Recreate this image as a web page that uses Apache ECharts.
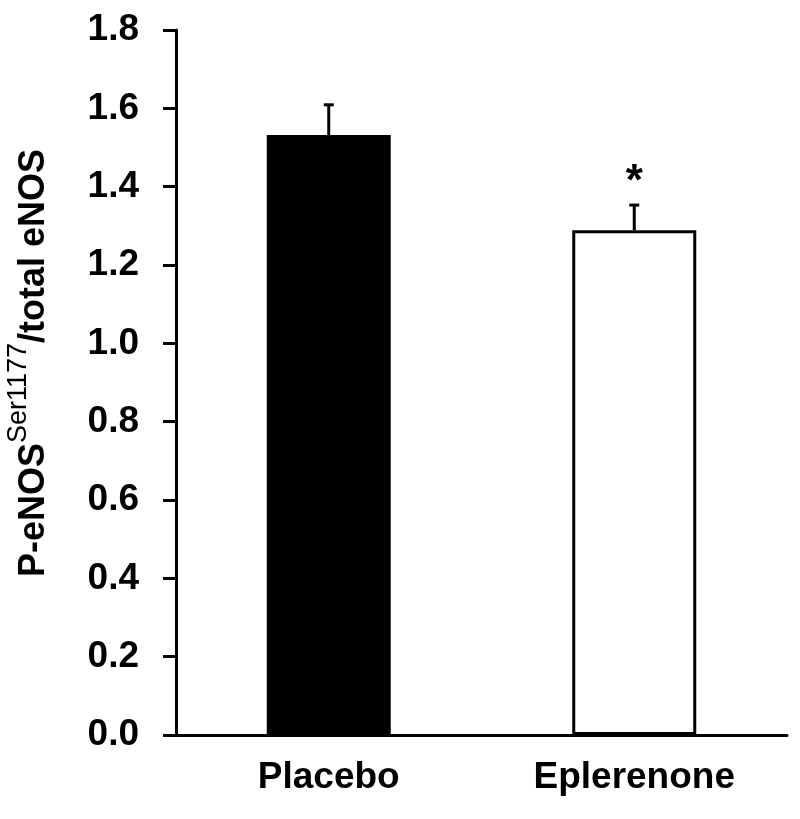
<!DOCTYPE html>
<html>
<head>
<meta charset="utf-8">
<script src="https://cdn.jsdelivr.net/npm/echarts@6/dist/echarts.min.js"></script>
<style>html,body{margin:0;padding:0;background:#fff;}#chart{width:800px;height:819px;}</style>
</head>
<body>
<div id="chart"></div>
<script>
const categories = ['Placebo', 'Eplerenone'];
const means = [1.532, 1.289];
const errors = [0.077, 0.064];
const significance = ['', '*'];
const yTicks = { min: 0, max: 1.8, interval: 0.2 };

const FONT = '"Liberation Sans", Arial, sans-serif';
const chart = echarts.init(document.getElementById('chart'), null, { renderer: 'canvas' });

const barData = means.map((v, i) => ({
  value: v,
  itemStyle: i === 0
    ? { color: '#000', borderColor: '#000', borderWidth: 0 }
    : { color: '#fff', borderColor: '#000', borderWidth: 3 }
}));
const errData = means.map((v, i) => [i, v, errors[i], significance[i]]);

chart.setOption({
  animation: false,
  backgroundColor: '#fff',
  grid: { left: 176, right: 13, top: 30, bottom: 84, containLabel: false },
  xAxis: {
    type: 'category',
    data: categories,
    axisLine: { lineStyle: { color: '#000', width: 3 } },
    axisTick: { show: false },
    axisLabel: { color: '#000', fontFamily: FONT, fontWeight: 'bold', fontSize: 37, margin: 24 },
    splitLine: { show: false }
  },
  yAxis: {
    type: 'value',
    min: yTicks.min, max: yTicks.max, interval: yTicks.interval,
    axisLine: { show: true, lineStyle: { color: '#000', width: 3 } },
    axisTick: { show: true, inside: false, length: 13, lineStyle: { color: '#000', width: 3 } },
    axisLabel: { color: '#000', fontFamily: FONT, fontWeight: 'bold', fontSize: 37, margin: 37,
      formatter: v => v.toFixed(1) },
    splitLine: { show: false }
  },
  graphic: [{
    type: 'text',
    x: 34, y: 363,
    rotation: Math.PI / 2,
    style: {
      text: '{a|P-eNOS}{b|Ser1177}{a|/total eNOS}',
      align: 'center',
      verticalAlign: 'middle',
      fill: '#000',
      rich: {
        a: { fontFamily: FONT, fontWeight: 'bold', fontSize: 36, lineHeight: 36, verticalAlign: 'bottom', fill: '#000' },
        b: { fontFamily: FONT, fontWeight: 'normal', fontSize: 27, lineHeight: 27, verticalAlign: 'bottom', padding: [0, 0, 20, 0], fill: '#000' }
      }
    }
  }],
  series: [
    {
      type: 'bar',
      data: barData,
      barWidth: 124,
      z: 2
    },
    {
      type: 'custom',
      z: 3,
      data: errData,
      renderItem: function (params, api) {
        const idx = api.value(0);
        const m = api.value(1);
        const e = api.value(2);
        const sig = significance[params.dataIndex];
        const p0 = api.coord([idx, m]);
        const p1 = api.coord([idx, m + e]);
        const capHalf = 5;
        const children = [
          { type: 'line', shape: { x1: p0[0], y1: p0[1], x2: p1[0], y2: p1[1] },
            style: { stroke: '#000', lineWidth: 3 } },
          { type: 'line', shape: { x1: p1[0] - capHalf, y1: p1[1], x2: p1[0] + capHalf, y2: p1[1] },
            style: { stroke: '#000', lineWidth: 3 } }
        ];
        if (sig) {
          children.push({ type: 'text', x: p1[0], y: p1[1] - 22,
            style: { text: sig, fontFamily: FONT, fontWeight: 'bold', fontSize: 44, fill: '#000',
              align: 'center', verticalAlign: 'middle' } });
        }
        return { type: 'group', children: children };
      }
    }
  ]
});
</script>
</body>
</html>
